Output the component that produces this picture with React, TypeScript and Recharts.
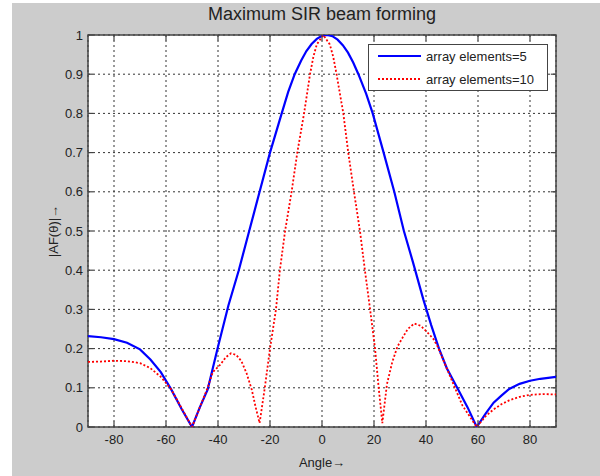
import React from 'react';
import {
  LineChart,
  Line,
  XAxis,
  YAxis,
  CartesianGrid,
  ReferenceLine,
  ReferenceArea,
} from 'recharts';

// |AF|, array elements = 5
const angles5 = [
  -90, -85, -80, -75, -70, -66, -62, -58, -54, -50, -47, -44, -40, -36, -32, -28, -24, -20,
  -15.5, -13, -10.5, -8, -6, -4, -2, 0, 2, 4, 6, 8, 10, 12, 14, 17, 19.5, 23.7, 27.8, 31.5,
  35, 39, 42, 45, 48, 52, 56, 59.5, 63, 66, 69, 72, 76, 80, 84, 90,
];
const af5 = [
  0.232, 0.229, 0.224, 0.215, 0.198, 0.172, 0.14, 0.096, 0.046, 0, 0.05, 0.095, 0.205, 0.31,
  0.4, 0.5, 0.6, 0.7, 0.8, 0.855, 0.9, 0.935, 0.959, 0.977, 0.99, 0.998, 1.0, 0.997, 0.988,
  0.974, 0.955, 0.93, 0.9, 0.85, 0.8, 0.7, 0.6, 0.5, 0.42, 0.325, 0.26, 0.2, 0.15, 0.1, 0.05,
  0, 0.035, 0.062, 0.08, 0.097, 0.11, 0.118, 0.123, 0.128,
];

// |AF|, array elements = 10
const angles10 = [
  -90, -85, -80, -75, -70, -66, -62, -58, -54, -50, -47, -44, -42, -39, -37, -35, -33, -31,
  -29, -27, -25.5, -24, -22, -20, -17.7, -16.2, -14.2, -11.7, -9.5, -6.9, -4.6, -3.3, -2, 0.5,
  3, 4.3, 5.6, 8.2, 10.1, 12.3, 14.6, 16.5, 18.5, 20.4, 21.8, 23.2, 25, 27, 29, 31, 33, 35.5,
  38, 40.3, 42.8, 44.5, 46.7, 50.5, 54, 59.5, 63, 66, 69, 72, 76, 80, 85, 90,
];
const af10 = [
  0.166, 0.167, 0.169, 0.168, 0.163, 0.15, 0.128, 0.096, 0.048, 0, 0.05, 0.1, 0.14, 0.16,
  0.178, 0.188, 0.184, 0.168, 0.137, 0.095, 0.05, 0.01, 0.1, 0.2, 0.3, 0.4, 0.5, 0.6, 0.7,
  0.8, 0.9, 0.945, 0.976, 1.0, 0.976, 0.945, 0.9, 0.8, 0.7, 0.6, 0.5, 0.4, 0.3, 0.2, 0.1,
  0.01, 0.11, 0.165, 0.205, 0.228, 0.25, 0.264, 0.258, 0.243, 0.225, 0.205, 0.17, 0.11, 0.055,
  0, 0.028, 0.045, 0.058, 0.068, 0.077, 0.082, 0.084, 0.083,
];

const xTicks = [-80, -60, -40, -20, 0, 20, 40, 60, 80];
const yTicks = [0, 0.1, 0.2, 0.3, 0.4, 0.5, 0.6, 0.7, 0.8, 0.9, 1];

const seriesNames = ['array elements=5', 'array elements=10'];

const data5 = angles5.map((a, i) => ({ angle: a, value: af5[i] }));
const data10 = angles10.map((a, i) => ({ angle: a, value: af10[i] }));

const FONT = '"Liberation Sans", Arial, sans-serif';
const TEXT = '#222';
const AXIS = '#444';

export default function App() {
  return (
    <div
      style={{
        position: 'absolute',
        left: 0,
        top: 0,
        width: 600,
        height: 476,
        background: '#fff',
        fontFamily: FONT,
        overflow: 'hidden',
      }}
    >
      <div style={{ position: 'absolute', left: 12, top: 3, right: 0, bottom: 0, background: '#cccccc' }} />

      <div
        style={{
          position: 'absolute',
          left: 88,
          width: 468,
          top: 4,
          textAlign: 'center',
          fontSize: 18,
          color: TEXT,
        }}
      >
        Maximum SIR beam forming
      </div>

      <div style={{ position: 'absolute', left: 0, top: 0 }}>
        <LineChart width={600} height={476} margin={{ top: 35, right: 44, bottom: 19, left: 28 }}>
          <CartesianGrid strokeDasharray="2 3" stroke="#333" strokeWidth={1} fill="#fff" fillOpacity={1} />
          <XAxis
            type="number"
            dataKey="angle"
            domain={[-90, 90]}
            ticks={xTicks}
            allowDataOverflow
            height={30}
            axisLine={false}
            tickLine={false}
            tickSize={0}
            tickMargin={8}
            tick={{ fill: TEXT, fontSize: 13, fontFamily: FONT }}
          />
          <YAxis
            type="number"
            domain={[0, 1]}
            ticks={yTicks}
            allowDataOverflow
            width={60}
            axisLine={false}
            tickLine={false}
            tickSize={0}
            tickMargin={5}
            tick={{ fill: TEXT, fontSize: 13, fontFamily: FONT }}
          />

          <Line
            type="linear"
            data={data5}
            dataKey="value"
            name={seriesNames[0]}
            stroke="#0000ff"
            strokeWidth={2.2}
            dot={false}
            isAnimationActive={false}
          />
          <Line
            type="linear"
            data={data10}
            dataKey="value"
            name={seriesNames[1]}
            stroke="#ff0000"
            strokeWidth={1.8}
            strokeDasharray="2 2"
            dot={false}
            isAnimationActive={false}
          />

          {/* inward tick marks on all four sides, MATLAB style */}
          {xTicks.map((t) => (
            <ReferenceLine key={`xb${t}`} segment={[{ x: t, y: 0 }, { x: t, y: 0.014 }]} stroke={AXIS} strokeWidth={1.2} />
          ))}
          {xTicks.map((t) => (
            <ReferenceLine key={`xt${t}`} segment={[{ x: t, y: 1 }, { x: t, y: 0.986 }]} stroke={AXIS} strokeWidth={1.2} />
          ))}
          {yTicks.map((t) => (
            <ReferenceLine key={`yl${t}`} segment={[{ x: -90, y: t }, { x: -88, y: t }]} stroke={AXIS} strokeWidth={1.2} />
          ))}
          {yTicks.map((t) => (
            <ReferenceLine key={`yr${t}`} segment={[{ x: 90, y: t }, { x: 88, y: t }]} stroke={AXIS} strokeWidth={1.2} />
          ))}

          <ReferenceArea x1={-90} x2={90} y1={0} y2={1} fill="none" fillOpacity={0} stroke={AXIS} strokeWidth={1.5} />
        </LineChart>
      </div>

      {/* y axis label */}
      <div
        style={{
          position: 'absolute',
          left: 53,
          top: 231,
          transform: 'translate(-50%, -50%) rotate(-90deg)',
          fontSize: 13,
          color: TEXT,
          whiteSpace: 'nowrap',
        }}
      >
        |AF(θ)|→
      </div>

      {/* x axis label */}
      <div
        style={{
          position: 'absolute',
          left: 88,
          width: 468,
          top: 455,
          textAlign: 'center',
          fontSize: 13,
          color: TEXT,
        }}
      >
        Angle→
      </div>

      {/* legend */}
      <div
        style={{
          position: 'absolute',
          left: 368,
          top: 44,
          width: 178,
          height: 45,
          background: '#fff',
          border: `1px solid ${AXIS}`,
          fontSize: 13,
          color: TEXT,
        }}
      >
        <div style={{ position: 'absolute', left: 9, top: 3, display: 'flex', alignItems: 'center', whiteSpace: 'nowrap' }}>
          <svg width={44} height={16}>
            <line x1={0} y1={8} x2={43} y2={8} stroke="#0000ff" strokeWidth={2.2} />
          </svg>
          <span style={{ marginLeft: 4 }}>{seriesNames[0]}</span>
        </div>
        <div style={{ position: 'absolute', left: 9, top: 26, display: 'flex', alignItems: 'center', whiteSpace: 'nowrap' }}>
          <svg width={44} height={16}>
            <line x1={0} y1={8} x2={43} y2={8} stroke="#ff0000" strokeWidth={1.8} strokeDasharray="2 2" />
          </svg>
          <span style={{ marginLeft: 4 }}>{seriesNames[1]}</span>
        </div>
      </div>
    </div>
  );
}
